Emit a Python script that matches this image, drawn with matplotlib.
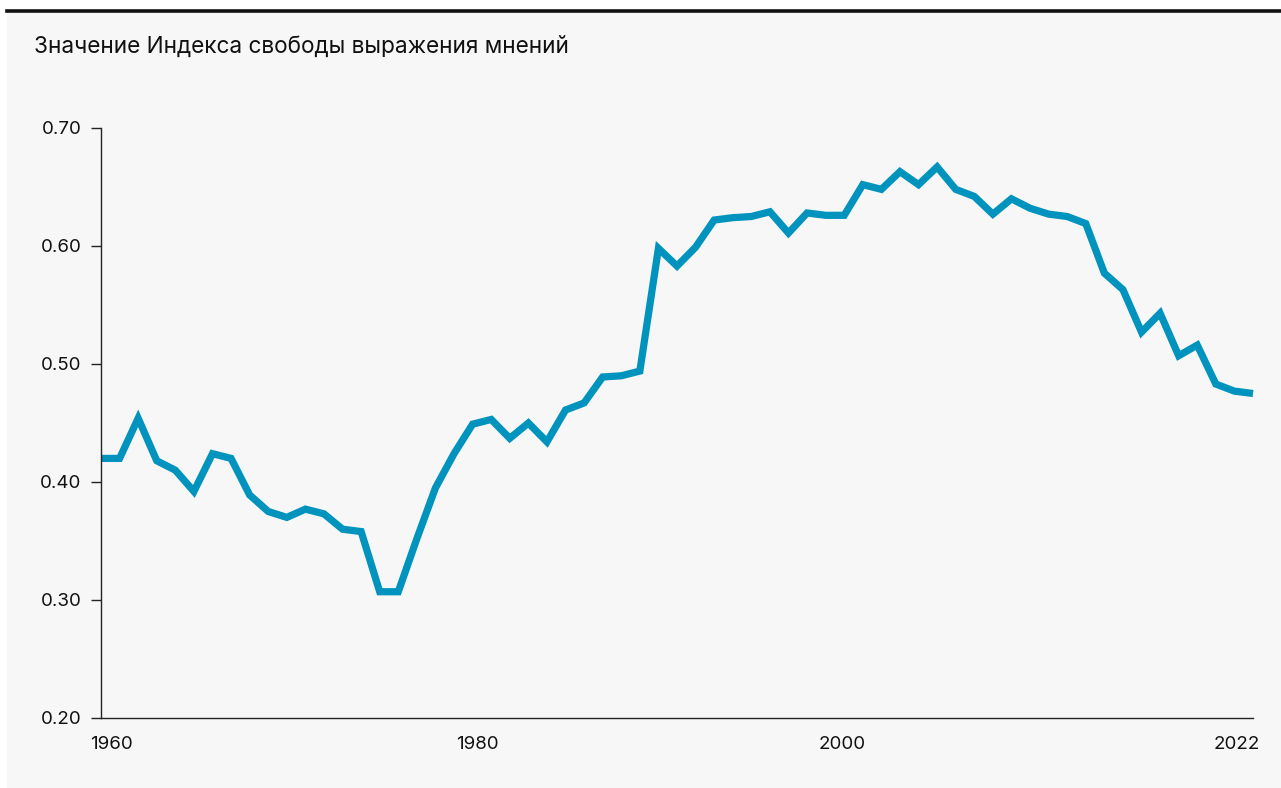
import matplotlib
matplotlib.use("Agg")
import matplotlib.pyplot as plt
from matplotlib.patches import Rectangle
from matplotlib.lines import Line2D

years = list(range(1960, 2023))
values = [0.420, 0.420, 0.454, 0.418, 0.410, 0.392, 0.424, 0.420, 0.389, 0.375,
          0.370, 0.377, 0.373, 0.360, 0.358, 0.307, 0.307, 0.352, 0.395, 0.424,
          0.449, 0.453, 0.437, 0.450, 0.434, 0.461, 0.467, 0.489, 0.490, 0.494,
          0.598, 0.583, 0.599, 0.622, 0.624, 0.625, 0.629, 0.611, 0.628, 0.626,
          0.626, 0.652, 0.648, 0.663, 0.652, 0.667, 0.648, 0.642, 0.627, 0.640,
          0.632, 0.627, 0.625, 0.619, 0.577, 0.563, 0.527, 0.543, 0.507, 0.516,
          0.483, 0.477, 0.475]
title = "Значение Индекса свободы выражения мнений"
xtick_labels = ["1960", "1980", "2000", "2022"]
xtick_pos = [1960.55, 1980.25, 1999.9, 2021.15]
ytick_vals = [0.2, 0.3, 0.4, 0.5, 0.6, 0.7]

plt.rcParams['font.family'] = ['Inter', 'DejaVu Sans']

W, H = 1281, 788
fig = plt.figure(figsize=(W / 100, H / 100), dpi=100, facecolor="white")

# background panel
bg = Rectangle((7 / W, 0), 1 - 7 / W, 1 - 12 / H, transform=fig.transFigure,
               facecolor="#f7f7f7", edgecolor="none", zorder=-10)
fig.add_artist(bg)
fig.add_artist(Line2D([7 / W, 1], [1 - 11 / H, 1 - 11 / H], transform=fig.transFigure,
                      color="#111111", linewidth=2.6, zorder=-5))

ax = fig.add_axes([101 / W, 1 - 718 / H, (1253 - 101) / W, (718 - 128) / H])
ax.set_zorder(5)
ax.set_facecolor("none")
ax.plot(years, values, color="#0093be", linewidth=5.2, solid_joinstyle="miter",
        solid_capstyle="butt", clip_on=False)

ax.set_xlim(1960, 2022)
ax.set_ylim(0.2, 0.7)
ax.set_yticks(ytick_vals)
ax.set_yticklabels([f"{v:.2f}" for v in ytick_vals])
ax.set_xticks(xtick_pos)
ax.set_xticklabels(xtick_labels)

for s in ["top", "right"]:
    ax.spines[s].set_visible(False)
for s in ["left", "bottom"]:
    ax.spines[s].set_color("#222222")
    ax.spines[s].set_linewidth(1.0)

ax.tick_params(axis="y", length=7, width=1, color="#222222", pad=7, labelsize=13.5,
               labelcolor="#111111")
ax.tick_params(axis="x", length=0, pad=13, labelsize=13.5, labelcolor="#111111")

fig.text(34 / W, 1 - 47 / H, title, fontsize=16.3, color="#111111", va="center", ha="left")

fig.savefig("out.png", dpi=100, facecolor=fig.get_facecolor())
